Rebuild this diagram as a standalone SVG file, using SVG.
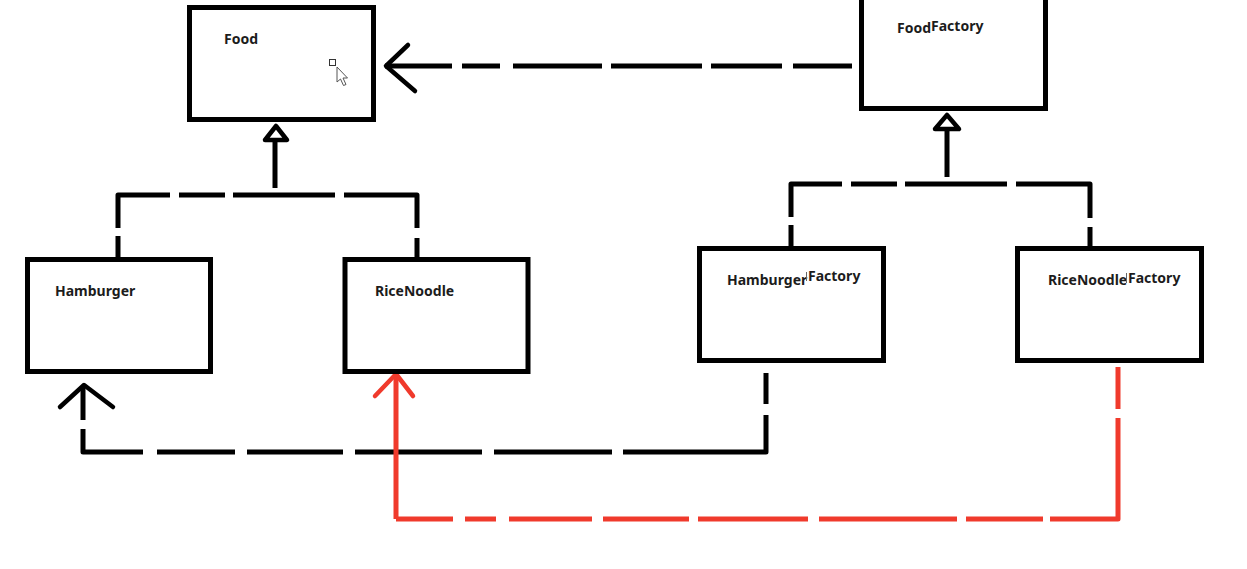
<svg xmlns="http://www.w3.org/2000/svg" width="1247" height="569" viewBox="0 0 1247 569">
<style>
  .box { fill: #ffffff; stroke: #000; stroke-width: 5; }
  .lbl { font-family: "Noto Sans", "Liberation Sans", sans-serif; font-weight: bold; font-size: 14px; fill: #1c1c1c; }
  .blk { fill: none; stroke: #000; stroke-width: 5; stroke-linejoin: round; }
  .red { fill: none; stroke: #f03a2c; stroke-width: 5; stroke-linejoin: round; }
  .head { fill: none; stroke-width: 4.5; stroke-linecap: round; stroke-linejoin: round; }
  .tri { fill: #fff; stroke: #000; stroke-width: 4.5; stroke-linejoin: round; }
</style>
<rect width="1247" height="569" fill="#ffffff"/>

<g id="connectors">
  <!-- FoodFactory -> Food dependency -->
  <path class="blk" d="M385,66 L452,66 M462,66 L500,66 M513,66 L602,66 M611,66 L702,66 M711,66 L782,66 M793,66 L852,66"/>
  <path class="head" stroke="#000" d="M408,45 L386,66 L415,91"/>

  <!-- Food inheritance -->
  <path class="tri" d="M276,126 L287,140 L265,140 Z"/>
  <path class="blk" stroke-width="4.5" d="M275,140 L275,188"/>
  <path class="blk" d="M118,228 L118,195 L170,195 M179,195 L225,195 M233,195 L335,195 M344,195 L417,195 L417,228 M118,236 L118,258 M417,238 L417,258"/>

  <!-- FoodFactory inheritance -->
  <path class="tri" d="M947,115 L959,129 L935,129 Z"/>
  <path class="blk" stroke-width="4.5" d="M947,129 L947,177"/>
  <path class="blk" d="M791,217 L791,184 L842,184 M851,184 L897,184 M905,184 L1007,184 M1016,184 L1090,184 L1090,218 M791,225 L791,247 M1090,227 L1090,247"/>

  <!-- HamburgerFactory -> Hamburger -->
  <path class="blk" d="M766,373 L766,404 M766,415 L766,452 L623,452 M612,452 L494,452 M482,452 L355,452 M343,452 L247,452 M235,452 L157,452 M143,452 L83,452 L83,429"/>
  <path class="blk" stroke-width="3.5" d="M83,420 L83,386"/>
  <path class="head" stroke="#000" d="M60,407 L84,385 L113,407"/>

  <!-- RiceNoodleFactory -> RiceNoodle -->
  <path class="red" d="M1118,367 L1118,409 M1118,418 L1118,519 L1050,519 M1043,519 L966,519 M957,519 L819,519 M808,519 L698,519 M689,519 L603,519 M592,519 L509,519 M496,519 L465,519 M453,519 L396,519"/>
  <path class="red" stroke-width="3.5" d="M396,519 L396,375"/>
  <path class="head" stroke="#f03a2c" d="M375,396 L396,374 L413,396"/>
</g>

<g id="food">
  <rect class="box" x="189.5" y="7.5" width="184" height="112"/>
  <text class="lbl" x="224" y="44">Food</text>
  <!-- cursor artifact -->
  <rect x="329.5" y="59.5" width="6" height="6" fill="#fff" stroke="#333" stroke-width="1"/>
  <path d="M337,67 L337,82 L340.5,79 L343.5,85.5 L346,84.5 L343,78 L347.5,78 Z" fill="#fff" stroke="#555" stroke-width="1" stroke-linejoin="round"/>
</g>

<g id="foodfactory">
  <rect class="box" x="861.5" y="-10" width="184" height="118.5"/>
  <text class="lbl" x="897" y="33">Food<tspan dy="-2">Factory</tspan></text>
</g>

<g id="hamburger">
  <rect class="box" x="27.5" y="259.5" width="183" height="112"/>
  <text class="lbl" x="55" y="296">Hamburger</text>
</g>

<g id="ricenoodle">
  <rect class="box" x="345" y="259.5" width="183" height="112"/>
  <text class="lbl" x="375" y="296">RiceNoodle</text>
</g>

<g id="hamburgerfactory">
  <rect class="box" x="699.5" y="248.5" width="184" height="112"/>
  <text class="lbl" x="727" y="285">Hamburger</text>
  <line x1="806.5" y1="272" x2="806.5" y2="281" stroke="#666" stroke-width="1"/>
  <text class="lbl" x="808" y="281" font-size="13">Factory</text>
</g>

<g id="ricenoodlefactory">
  <rect class="box" x="1017.5" y="248.5" width="184" height="112"/>
  <text class="lbl" x="1048" y="285">RiceNoodle</text>
  <line x1="1126.5" y1="273" x2="1126.5" y2="283" stroke="#666" stroke-width="1"/>
  <text class="lbl" x="1128" y="283" font-size="13">Factory</text>
</g>
</svg>
